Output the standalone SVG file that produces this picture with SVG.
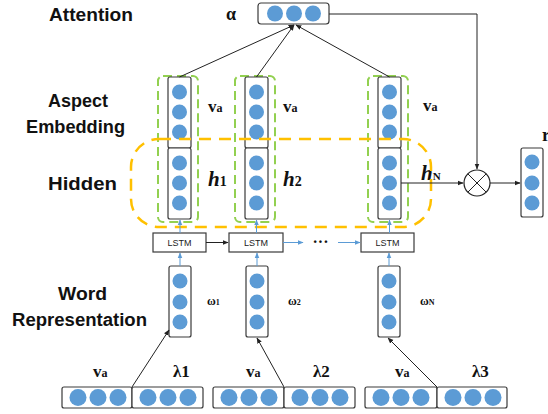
<svg xmlns="http://www.w3.org/2000/svg" width="548" height="414" viewBox="0 0 548 414">
<defs>
<style>
.lbl{font-family:"Liberation Sans",Arial,sans-serif;font-weight:bold;font-size:18px;fill:#111}
.ser{font-family:"Liberation Serif","Times New Roman",serif;font-weight:bold;fill:#111}
.hi{font-family:"Liberation Serif","Times New Roman",serif;font-weight:bold;font-style:italic;fill:#111}
.box{fill:#fff;stroke:#3a3a3a;stroke-width:1.2}
.dot{fill:#5B9BD5;filter:url(#soft)}
.grn{fill:none;stroke:#92D050;stroke-width:2;stroke-dasharray:9 5}
.org{fill:none;stroke:#FFC000;stroke-width:2.5;stroke-dasharray:12 8}
.blk{stroke:#222;stroke-width:1;fill:none}
.blu{stroke:#5B9BD5;stroke-width:1;fill:none}
.lstm{font-family:"Liberation Sans",Arial,sans-serif;font-size:9px;fill:#222;text-anchor:middle}
</style>
<filter id="soft" x="-20%" y="-20%" width="140%" height="140%"><feGaussianBlur stdDeviation="0.5"/></filter>
<marker id="ab" viewBox="0 0 10 10" refX="9" refY="5" markerWidth="6" markerHeight="6" orient="auto"><path d="M0,1 L10,5 L0,9 z" fill="#222"/></marker>
<marker id="au" viewBox="0 0 10 10" refX="9" refY="5" markerWidth="6" markerHeight="6" orient="auto"><path d="M0,1 L10,5 L0,9 z" fill="#5B9BD5"/></marker>
</defs>
<rect width="548" height="414" fill="#fff"/>

<!-- left labels -->
<text class="lbl" x="49" y="21" textLength="84" lengthAdjust="spacingAndGlyphs">Attention</text>
<text class="lbl" x="48" y="107" textLength="60" lengthAdjust="spacingAndGlyphs">Aspect</text>
<text class="lbl" x="26" y="133" textLength="99" lengthAdjust="spacingAndGlyphs">Embedding</text>
<text class="lbl" x="48" y="190" textLength="69" lengthAdjust="spacingAndGlyphs">Hidden</text>
<text class="lbl" x="58" y="300" textLength="49" lengthAdjust="spacingAndGlyphs">Word</text>
<text class="lbl" x="12" y="326" textLength="135" lengthAdjust="spacingAndGlyphs">Representation</text>

<!-- attention -->
<g id="attention">
<text class="ser" x="226" y="20" font-size="18">α</text>
<rect class="box" x="258" y="3" width="71" height="21" rx="3"/>
<circle class="dot" cx="275" cy="13.5" r="8"/><circle class="dot" cx="294" cy="13.5" r="8"/><circle class="dot" cx="313" cy="13.5" r="8"/>
</g>

<!-- column 1 -->
<g id="col1">
<rect class="grn" x="158" y="76" width="40" height="146" rx="5"/>
<rect class="box" x="168" y="77" width="23" height="71" rx="2"/>
<circle class="dot" cx="179.5" cy="92" r="7.5"/><circle class="dot" cx="179.5" cy="112" r="7.5"/><circle class="dot" cx="179.5" cy="132" r="7.5"/>
<rect class="box" x="168" y="148" width="23" height="71" rx="2"/>
<circle class="dot" cx="179.5" cy="163" r="7.5"/><circle class="dot" cx="179.5" cy="183" r="7.5"/><circle class="dot" cx="179.5" cy="203" r="7.5"/>
<text class="ser" x="208" y="112" font-size="17">v<tspan font-size="12">a</tspan></text>
<text class="hi" x="208" y="186" font-size="21">h<tspan font-size="14" font-style="normal">1</tspan></text>
</g>
<g id="col2">
<rect class="grn" x="235" y="76" width="40" height="146" rx="5"/>
<rect class="box" x="245" y="77" width="23" height="71" rx="2"/>
<circle class="dot" cx="256.5" cy="92" r="7.5"/><circle class="dot" cx="256.5" cy="112" r="7.5"/><circle class="dot" cx="256.5" cy="132" r="7.5"/>
<rect class="box" x="245" y="148" width="23" height="71" rx="2"/>
<circle class="dot" cx="256.5" cy="163" r="7.5"/><circle class="dot" cx="256.5" cy="183" r="7.5"/><circle class="dot" cx="256.5" cy="203" r="7.5"/>
<text class="ser" x="283" y="112" font-size="17">v<tspan font-size="12">a</tspan></text>
<text class="hi" x="283" y="186" font-size="21">h<tspan font-size="14" font-style="normal">2</tspan></text>
</g>
<g id="colN">
<rect class="grn" x="368" y="76" width="40" height="146" rx="5"/>
<rect class="box" x="378" y="77" width="23" height="71" rx="2"/>
<circle class="dot" cx="389.5" cy="92" r="7.5"/><circle class="dot" cx="389.5" cy="112" r="7.5"/><circle class="dot" cx="389.5" cy="132" r="7.5"/>
<rect class="box" x="378" y="148" width="23" height="71" rx="2"/>
<circle class="dot" cx="389.5" cy="163" r="7.5"/><circle class="dot" cx="389.5" cy="183" r="7.5"/><circle class="dot" cx="389.5" cy="203" r="7.5"/>
<text class="ser" x="423" y="111" font-size="17">v<tspan font-size="12">a</tspan></text>
<text class="hi" x="421" y="180" font-size="21">h<tspan font-size="11" font-style="normal">N</tspan></text>
</g>

<!-- hidden group -->
<rect id="hidden-group" class="org" x="131" y="139" width="300" height="88" rx="28"/>

<!-- LSTM -->
<g id="lstm1"><rect class="box" x="153" y="233" width="53" height="19"/><text class="lstm" x="179.5" y="246">LSTM</text></g>
<g id="lstm2"><rect class="box" x="229" y="233" width="54" height="19"/><text class="lstm" x="256" y="246">LSTM</text></g>
<g id="lstm3"><rect class="box" x="361" y="233" width="53" height="19"/><text class="lstm" x="387.5" y="246">LSTM</text></g>
<text class="ser" x="320.5" y="247" font-size="16" text-anchor="middle">···</text>

<!-- word reps -->
<g id="word1">
<rect class="box" x="169" y="266" width="22" height="71" rx="2"/>
<circle class="dot" cx="180" cy="281" r="7.5"/><circle class="dot" cx="180" cy="302" r="7.5"/><circle class="dot" cx="180" cy="322" r="7.5"/>
<text class="ser" x="207" y="305" font-size="12">ω<tspan font-size="8">1</tspan></text>
</g>
<g id="word2">
<rect class="box" x="246" y="266" width="22" height="71" rx="2"/>
<circle class="dot" cx="257" cy="281" r="7.5"/><circle class="dot" cx="257" cy="302" r="7.5"/><circle class="dot" cx="257" cy="322" r="7.5"/>
<text class="ser" x="288" y="305" font-size="12">ω<tspan font-size="8">2</tspan></text>
</g>
<g id="wordN">
<rect class="box" x="378" y="266" width="22" height="71" rx="2"/>
<circle class="dot" cx="389" cy="281" r="7.5"/><circle class="dot" cx="389" cy="302" r="7.5"/><circle class="dot" cx="389" cy="322" r="7.5"/>
<text class="ser" x="420" y="305" font-size="12">ω<tspan font-size="8">N</tspan></text>
</g>

<!-- inputs -->
<g id="input1">
<rect class="box" x="62" y="387" width="70" height="21" rx="2"/><rect class="box" x="132" y="387" width="71" height="21" rx="2"/>
<circle class="dot" cx="78" cy="397.5" r="8.5"/><circle class="dot" cx="98" cy="397.5" r="8.5"/><circle class="dot" cx="118" cy="397.5" r="8.5"/>
<circle class="dot" cx="148" cy="397.5" r="8.5"/><circle class="dot" cx="168" cy="397.5" r="8.5"/><circle class="dot" cx="188" cy="397.5" r="8.5"/>
<text class="ser" x="93" y="377" font-size="17">v<tspan font-size="12">a</tspan></text>
<text class="ser" x="173" y="377" font-size="17">λ1</text>
</g>
<g id="input2">
<rect class="box" x="213" y="387" width="71" height="21" rx="2"/><rect class="box" x="284" y="387" width="71" height="21" rx="2"/>
<circle class="dot" cx="229" cy="397.5" r="8.5"/><circle class="dot" cx="249" cy="397.5" r="8.5"/><circle class="dot" cx="269" cy="397.5" r="8.5"/>
<circle class="dot" cx="300" cy="397.5" r="8.5"/><circle class="dot" cx="320" cy="397.5" r="8.5"/><circle class="dot" cx="340" cy="397.5" r="8.5"/>
<text class="ser" x="246" y="377" font-size="17">v<tspan font-size="12">a</tspan></text>
<text class="ser" x="313" y="377" font-size="17">λ2</text>
</g>
<g id="input3">
<rect class="box" x="365" y="387" width="72" height="21" rx="2"/><rect class="box" x="437" y="387" width="70" height="21" rx="2"/>
<circle class="dot" cx="381" cy="397.5" r="8.5"/><circle class="dot" cx="401" cy="397.5" r="8.5"/><circle class="dot" cx="421" cy="397.5" r="8.5"/>
<circle class="dot" cx="453" cy="397.5" r="8.5"/><circle class="dot" cx="473" cy="397.5" r="8.5"/><circle class="dot" cx="493" cy="397.5" r="8.5"/>
<text class="ser" x="395" y="377" font-size="17">v<tspan font-size="12">a</tspan></text>
<text class="ser" x="472" y="377" font-size="17">λ3</text>
</g>

<!-- combine + output -->
<g id="combine">
<circle cx="477" cy="183" r="13" fill="#fff" stroke="#222" stroke-width="1.2"/>
<path d="M467.8,173.8 L486.2,192.2 M486.2,173.8 L467.8,192.2" stroke="#222" stroke-width="1"/>
</g>
<g id="output">
<rect class="box" x="521" y="148" width="22" height="69" rx="2"/>
<circle class="dot" cx="532" cy="162" r="7.5"/><circle class="dot" cx="532" cy="183" r="7.5"/><circle class="dot" cx="532" cy="203" r="7.5"/>
<text class="ser" x="542" y="141" font-size="18">r</text>
</g>

<!-- connectors -->
<g id="connectors">
<path class="blk" d="M179.5,77 L294,25" marker-end="url(#ab)"/>
<path class="blk" d="M256.5,77 L294,25" marker-end="url(#ab)"/>
<path class="blk" d="M389.5,77 L296,25" marker-end="url(#ab)"/>
<path class="blk" d="M329,14 H477 V169" marker-end="url(#ab)"/>
<path class="blk" d="M401,183 H463" marker-end="url(#ab)"/>
<path class="blk" d="M490,183 H520" marker-end="url(#ab)"/>
<path class="blk" d="M206,242.5 H228" marker-end="url(#ab)"/>
<path class="blu" d="M283,242.5 H303" marker-end="url(#au)"/>
<path class="blu" d="M338,242.5 H360" marker-end="url(#au)"/>
<path class="blu" d="M180,233 V220" marker-end="url(#au)"/>
<path class="blu" d="M256.5,233 V220" marker-end="url(#au)"/>
<path class="blu" d="M389.5,233 V220" marker-end="url(#au)"/>
<path class="blu" d="M180,266 V253" marker-end="url(#au)"/>
<path class="blu" d="M257,266 V253" marker-end="url(#au)"/>
<path class="blu" d="M389,266 V253" marker-end="url(#au)"/>
<path class="blk" d="M132,387 L169,330" marker-end="url(#ab)"/>
<path class="blk" d="M284,387 L257,338" marker-end="url(#ab)"/>
<path class="blk" d="M437,387 L388,338" marker-end="url(#ab)"/>
</g>
</svg>
